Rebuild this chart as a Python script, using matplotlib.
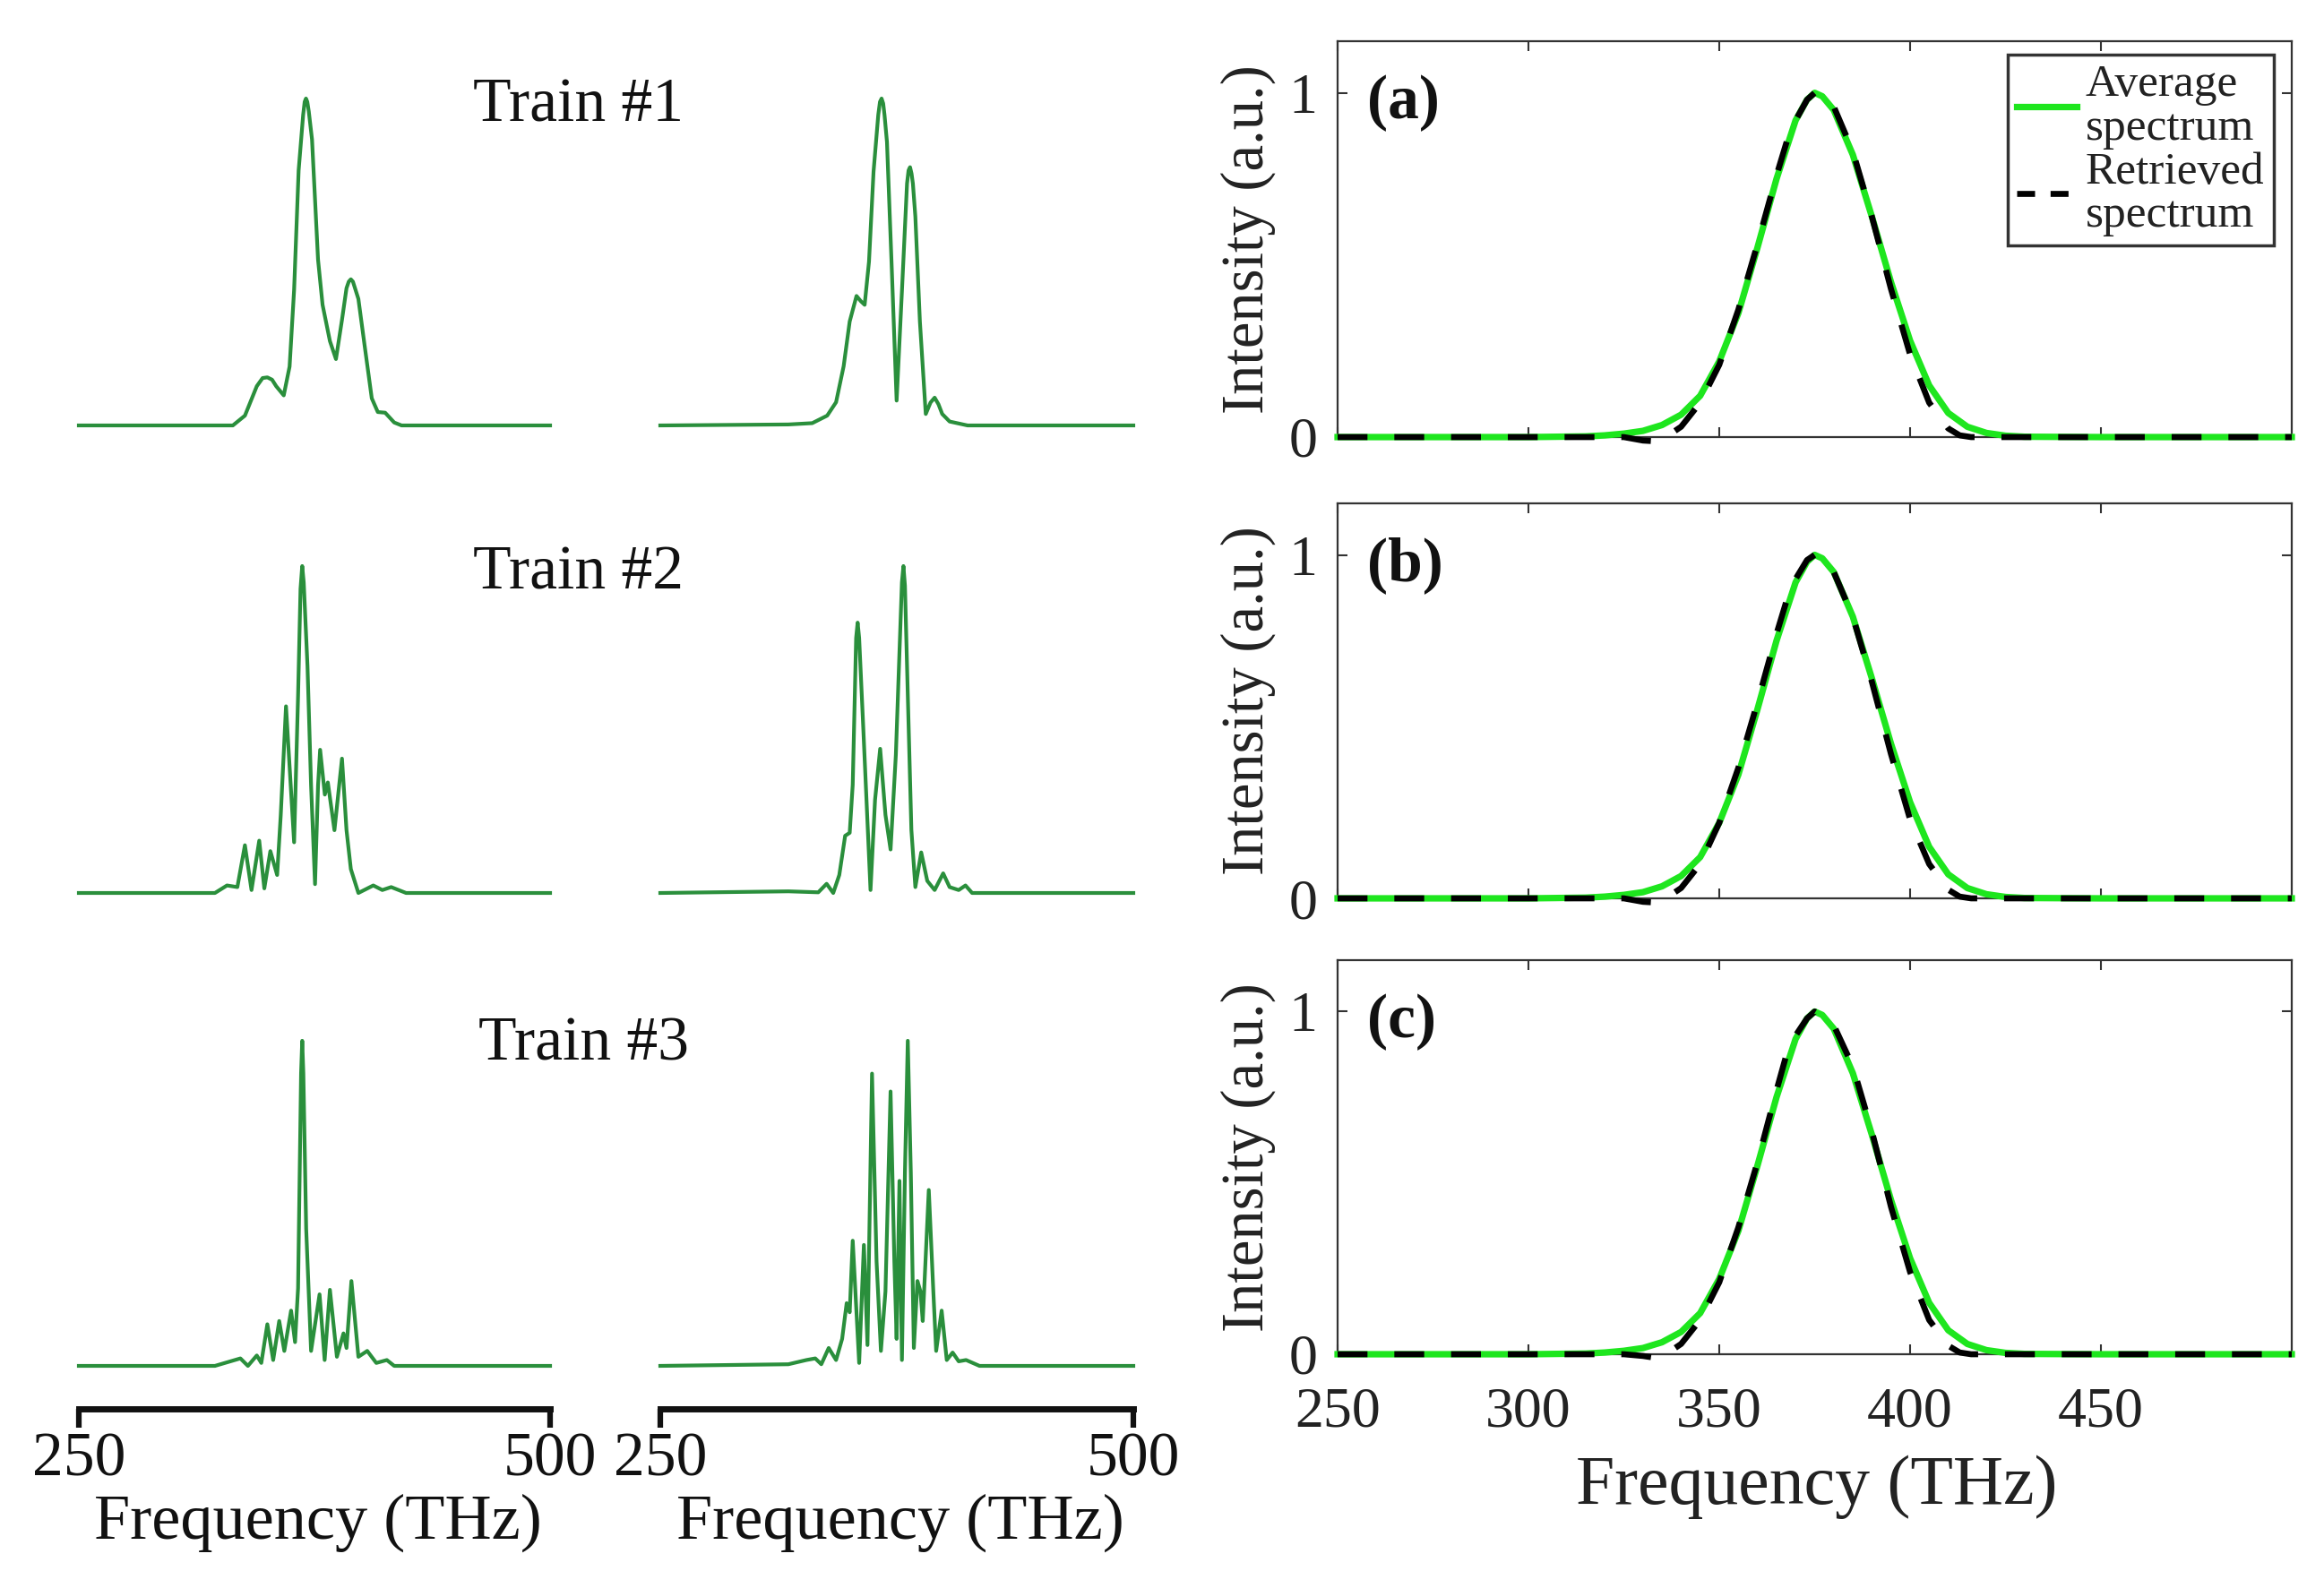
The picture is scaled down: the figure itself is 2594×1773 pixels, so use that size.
import matplotlib
matplotlib.use("Agg")
import matplotlib.pyplot as plt
from matplotlib.lines import Line2D

plt.rcParams['font.family'] = ['Liberation Serif', 'DejaVu Serif']

W, H = 2594, 1773

# ---------------- data ----------------
# Single-shot spectra, left side (frequency THz, normalised intensity)
t1a_f = [250, 331.7, 338.1, 344.4, 347.5, 350.0, 352.5, 354.7, 358.7, 361.8, 364.2, 366.6, 369.0, 369.8,
         370.5, 371.2, 372.0, 373.7, 376.9, 379.3, 383.2, 386.4, 389.6, 392.0, 393.2, 394.3, 395.4, 396.5,
         398.3, 401.5, 405.4, 408.6, 412.5, 417.3, 421.2, 500]
t1a_i = [0, 0, 0.03, 0.12, 0.145, 0.147, 0.14, 0.12, 0.092, 0.18, 0.415, 0.78, 0.95, 0.99,
         1.0, 0.99, 0.96, 0.875, 0.507, 0.369, 0.258, 0.203, 0.323, 0.42, 0.44, 0.447, 0.44, 0.42,
         0.387, 0.249, 0.083, 0.041, 0.039, 0.009, 0, 0]

t1b_f = [250, 317.7, 330.3, 338.2, 342.9, 346.9, 350.1, 353.7, 356.0, 358.0, 360.3, 362.7, 365.2, 366.1,
         366.95, 367.8, 368.5, 369.8, 372.2, 374.9, 377.7, 380.4, 381.2, 382.0, 382.8, 383.5, 384.8, 387.2,
         390.3, 392.8, 395.0, 397.0, 399.0, 402.9, 412.4, 500]
t1b_i = [0, 0.003, 0.007, 0.03, 0.071, 0.181, 0.318, 0.396, 0.38, 0.369, 0.501, 0.776, 0.95, 0.99,
         1.0, 0.985, 0.95, 0.867, 0.501, 0.076, 0.41, 0.74, 0.78, 0.79, 0.77, 0.74, 0.639, 0.318,
         0.035, 0.07, 0.085, 0.065, 0.035, 0.012, 0, 0]

t2a_f = [250, 322.2, 328.6, 334.1, 338.1, 341.6, 345.7, 348.4, 351.6, 355.2, 357.1, 359.9, 364.2, 366.3,
         367.6, 368.5, 369.3, 371.3, 373.2, 375.3, 376.9, 378.0, 380.5, 382.1, 385.6, 389.6, 392.0, 394.3,
         398.3, 406.2, 411.0, 415.7, 423.6, 500]
t2a_i = [0, 0, 0.023, 0.018, 0.146, 0.009, 0.16, 0.014, 0.128, 0.055, 0.237, 0.571, 0.155, 0.603,
         0.93, 1.0, 0.95, 0.694, 0.329, 0.027, 0.329, 0.438, 0.301, 0.338, 0.192, 0.411, 0.192, 0.073,
         0, 0.023, 0.009, 0.018, 0, 0]

t2b_f = [250, 317.7, 333.5, 337.9, 341.4, 344.6, 347.7, 350.1, 351.7, 353.5, 354.3, 355.1, 357.2, 361.1,
         363.5, 366.2, 369.0, 371.7, 374.5, 377.7, 378.5, 379.3, 380.8, 382.7, 384.8, 387.9, 391.1, 395.0,
         399.5, 402.9, 407.7, 411.3, 414.8, 500]
t2b_i = [0, 0.005, 0.002, 0.028, 0, 0.055, 0.175, 0.184, 0.331, 0.78, 0.827, 0.78, 0.515, 0.009,
         0.285, 0.441, 0.239, 0.133, 0.423, 0.95, 1.0, 0.94, 0.607, 0.193, 0.018, 0.124, 0.037, 0.009,
         0.06, 0.018, 0.009, 0.023, 0, 0]

t3a_f = [250, 322.2, 335.7, 339.7, 344.4, 346.8, 350.0, 353.1, 356.3, 359.0, 362.6, 364.7, 366.3, 367.9,
         368.5, 369.1, 370.6, 373.2, 377.7, 380.4, 383.2, 386.9, 390.4, 392.0, 394.6, 398.3, 403.0, 407.8,
         413.4, 417.3, 500]
t3a_i = [0, 0, 0.023, 0, 0.032, 0.009, 0.128, 0.018, 0.138, 0.046, 0.17, 0.073, 0.239, 0.9,
         1.0, 0.9, 0.422, 0.046, 0.22, 0.018, 0.234, 0.028, 0.1, 0.055, 0.261, 0.028, 0.046, 0.009,
         0.018, 0, 0]

t3b_f = [250, 317.7, 327.2, 331.9, 335.1, 339.0, 342.9, 346.1, 348.5, 350.1, 351.7, 355.1, 357.6, 359.5,
         361.9, 364.3, 366.6, 369.0, 371.7, 373.7, 374.9, 376.4, 377.7, 379.3, 380.8, 382.4, 384.0, 385.9,
         387.5, 388.7, 391.9, 394.3, 395.8, 398.7, 401.4, 404.5, 407.7, 411.6, 418.7, 500]
t3b_i = [0, 0.005, 0.018, 0.023, 0.005, 0.055, 0.018, 0.083, 0.193, 0.165, 0.385, 0.009, 0.372, 0.064,
         0.899, 0.321, 0.046, 0.229, 0.844, 0.321, 0.083, 0.569, 0.018, 0.596, 1.0, 0.596, 0.055, 0.261,
         0.229, 0.138, 0.541, 0.229, 0.046, 0.17, 0.018, 0.041, 0.014, 0.018, 0, 0]

train_titles = ["Train #1", "Train #2", "Train #3"]
scale_ticks = [250, 500]

# Average / retrieved spectra, right side
avg_f = [250, 300, 315, 320, 325, 330, 335, 340, 345, 350, 355, 360, 365, 370, 373, 375, 377, 380, 385,
         390, 395, 400, 405, 410, 415, 420, 425, 430, 450, 500]
avg_a = [0, 0, 0.002, 0.005, 0.01, 0.018, 0.035, 0.065, 0.12, 0.22, 0.36, 0.55, 0.75, 0.92, 0.98, 1.0,
         0.99, 0.95, 0.82, 0.64, 0.45, 0.28, 0.15, 0.07, 0.03, 0.012, 0.004, 0.001, 0, 0]
avg_b = avg_a
avg_c = avg_a

ret_f = [250, 300, 325, 330, 333, 336, 340, 345, 350, 355, 360, 365, 368, 370, 373, 375, 378, 380, 385,
         390, 395, 400, 405, 410, 413, 416, 420, 450, 500]
ret_a = [0, 0, 0, -0.01, -0.012, 0.0, 0.03, 0.1, 0.21, 0.37, 0.56, 0.76, 0.87, 0.92, 0.98, 1.0, 0.99, 0.96,
         0.83, 0.64, 0.43, 0.24, 0.1, 0.025, 0.005, 0, 0, 0, 0]
ret_b = [0, 0, 0, -0.01, -0.012, 0.0, 0.03, 0.1, 0.22, 0.38, 0.57, 0.77, 0.88, 0.93, 0.985, 1.0, 0.98, 0.95,
         0.82, 0.63, 0.42, 0.23, 0.1, 0.025, 0.005, 0, 0, 0, 0]
ret_c = [0, 0, 0, -0.005, -0.01, 0.0, 0.03, 0.1, 0.21, 0.37, 0.56, 0.77, 0.89, 0.93, 0.98, 1.0, 0.98, 0.96,
         0.84, 0.65, 0.43, 0.24, 0.1, 0.025, 0.005, 0, 0, 0, 0]

panel_labels = ["(a)", "(b)", "(c)"]
freq_ticks = [250, 300, 350, 400, 450]
legend_labels = ["Average\nspectrum", "Retrieved\nspectrum"]

# ---------------- figure ----------------
fig = plt.figure(figsize=(W / 100, H / 100), dpi=100)


def px_axes(x0, y0, x1, y1):
    return fig.add_axes([x0 / W, 1 - y1 / H, (x1 - x0) / W, (y1 - y0) / H])


def ftext(x, y, s, **kw):
    return fig.text(x / W, 1 - y / H, s, **kw)


SPEC_GREEN = '#2a8f3c'
cols = [(88, 614), (737, 1265)]
rows = [(110, 475), (632, 997), (1162, 1525)]
spectra = [[(t1a_f, t1a_i), (t1b_f, t1b_i)],
           [(t2a_f, t2a_i), (t2b_f, t2b_i)],
           [(t3a_f, t3a_i), (t3b_f, t3b_i)]]

for r, (ytop, ybot) in enumerate(rows):
    for c, (x0, x1) in enumerate(cols):
        ax = px_axes(x0, ytop, x1, ybot)
        f, i = spectra[r][c]
        ax.plot(f, i, color=SPEC_GREEN, lw=3.0, clip_on=False, solid_joinstyle='round')
        ax.set_xlim(250, 500)
        ax.set_ylim(0, 1)
        ax.axis('off')

title_pos = [(645, 136), (645, 658), (652, 1183)]
for (x, y), s in zip(title_pos, train_titles):
    ftext(x, y, s, ha='center', va='baseline', fontsize=50, color='#111111')

# scale bars
for (x0, x1), lx in zip(cols, [355, 1005]):
    ax = px_axes(x0, 1540, x1, 1573)
    ax.set_xlim(250, 500)
    ax.set_ylim(0, 1)
    ax.patch.set_visible(False)
    for s in ['top', 'left', 'right']:
        ax.spines[s].set_visible(False)
    ax.spines['bottom'].set_linewidth(5)
    ax.spines['bottom'].set_color('#111111')
    ax.set_yticks([])
    ax.set_xticks(scale_ticks)
    ax.set_xticklabels([str(t) for t in scale_ticks])
    ax.tick_params(axis='x', direction='out', length=15, width=4.5, color='#111111',
                   labelsize=50, pad=4, labelcolor='#111111')
    ftext(lx, 1700, "Frequency (THz)", ha='center', va='center', fontsize=52, color='#111111')

# right panels
right_axes_px = [(46, 488), (562, 1003), (1072, 1512)]
avgs = [avg_a, avg_b, avg_c]
rets = [ret_a, ret_b, ret_c]
for k, (ytop, ybot) in enumerate(right_axes_px):
    ax = px_axes(1493, ytop, 2558, ybot)
    ax.plot(avg_f, avgs[k], color='#1ee61e', lw=5.2, clip_on=False, zorder=3)
    ax.plot(ret_f, rets[k], color='black', lw=4.8, ls=(0, (5.0, 4.5)), clip_on=False, zorder=4)
    ax.set_xlim(250, 500)
    ax.set_ylim(0, 1.15)
    ax.set_xticks(freq_ticks)
    ax.set_yticks([0, 1])
    ax.set_yticklabels(['0', '1'])
    ax.tick_params(direction='in', top=True, right=True, length=8, width=1.5, colors='#333333',
                   labelsize=46, labelcolor='#222222')
    ax.tick_params(axis='y', pad=16)
    ax.tick_params(axis='x', pad=26)
    if k < 2:
        ax.set_xticklabels([])
    else:
        ax.set_xticklabels([str(t) for t in freq_ticks])
    for s in ax.spines.values():
        s.set_linewidth(1.6)
        s.set_color('#333333')
    ftext(1393, (ytop + ybot) / 2, "Intensity (a.u.)", rotation=90, ha='center', va='center',
          fontsize=48, color='#222222')
    ftext(1526, ytop + 69, panel_labels[k], ha='left', va='center', fontsize=50,
          fontweight='bold', color='#111111')
    if k == 0:
        h1 = Line2D([], [], color='#1ee61e', lw=5.2)
        h2 = Line2D([], [], color='black', lw=4.8, ls=(0, (3.0, 2.6)))
        leg = ax.legend(handles=[h1, h2], labels=legend_labels, loc='upper right',
                        bbox_to_anchor=(0.981, 0.965),
                        borderaxespad=0, fontsize=37, handlelength=1.3, handletextpad=0.2,
                        borderpad=0.2, labelspacing=0.05, fancybox=False, framealpha=1,
                        edgecolor='#333333')
        leg.get_frame().set_linewidth(2.5)
        for t in leg.get_texts():
            t.set_linespacing(1.05)
            t.set_color('#222222')

ftext(2028, 1660, "Frequency (THz)", ha='center', va='center', fontsize=56, color='#222222')

fig.savefig("out.png", dpi=100)
